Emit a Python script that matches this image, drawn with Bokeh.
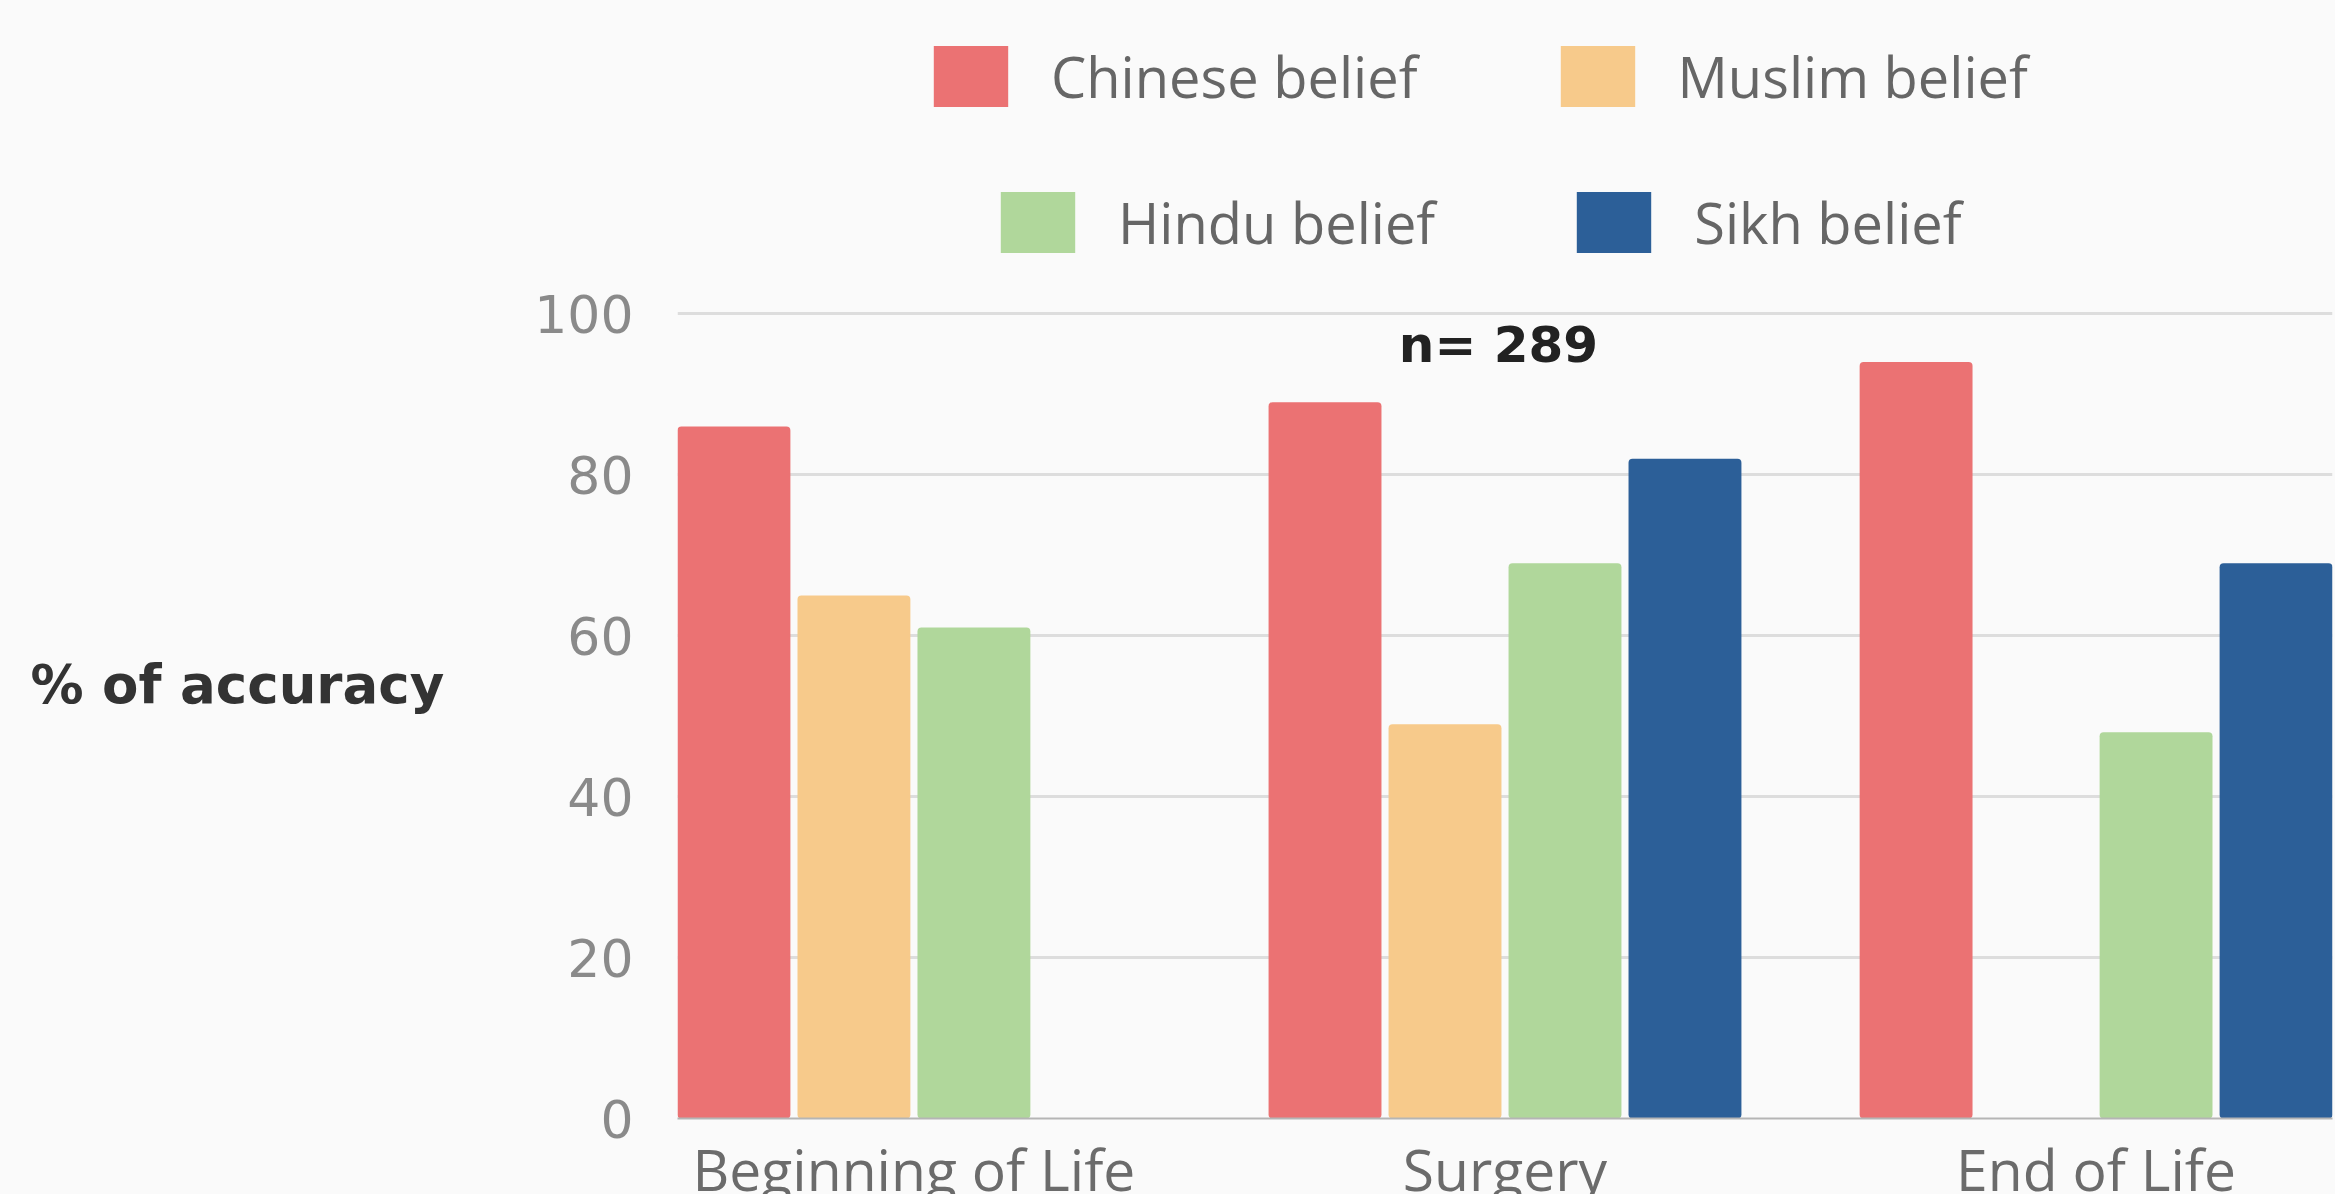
from bokeh.plotting import figure
from bokeh.models import ColumnDataSource, FactorRange, Legend, LegendItem, Label, FixedTicker
from bokeh.transform import dodge
from bokeh.embed import file_html
from bokeh.resources import INLINE

NaN = float("nan")

# ---- data ----
categories = ["Beginning of Life", "Surgery", "End of Life"]
series = ["Chinese belief", "Muslim belief", "Hindu belief", "Sikh belief"]
chinese = [86, 89, 94]
muslim = [65, 49, NaN]
hindu = [61, 69, 48]
sikh = [NaN, 82, 69]
y_ticks = [0, 20, 40, 60, 80, 100]
y_title = "% of accuracy"
sample_note = "n= 289"

# ---- style ----
colors = ["#EB7273", "#F7CA8B", "#B0D79B", "#2C5F98"]
offsets = [-0.3045, -0.1015, 0.1015, 0.3045]
bar_width = 0.191
BG = "#fafafa"

src = ColumnDataSource(dict(cat=categories, chinese=chinese, muslim=muslim,
                            hindu=hindu, sikh=sikh))

W, H = 2335, 1210
xr = FactorRange(*categories, range_padding=-0.1, range_padding_units="absolute")
# frame reaches the top of the canvas so the legend rows can sit inside it
p = figure(x_range=xr, y_range=(0, 138.93), width=W, height=H,
           output_backend="svg", toolbar_location=None,
           min_border_left=677, min_border_top=0, min_border_right=3,
           min_border_bottom=0)
p.background_fill_color = BG
p.border_fill_color = BG
p.outline_line_color = None

renderers = []
for col, off, c in zip(["chinese", "muslim", "hindu", "sikh"], offsets, colors):
    r = p.vbar(x=dodge("cat", off, range=p.x_range), top=col, width=bar_width,
               source=src, fill_color=c, line_color=None, border_radius=4)
    renderers.append(r)

# axes
p.xgrid.visible = False
p.ygrid.grid_line_color = "#dddddd"
p.ygrid.grid_line_width = 3
p.yaxis.ticker = FixedTicker(ticks=y_ticks)
p.yaxis.axis_line_color = None
p.yaxis.major_tick_line_color = None
p.yaxis.minor_tick_line_color = None
p.yaxis.major_tick_out = 0
p.yaxis.minor_tick_out = 0
p.yaxis.major_label_standoff = 44
p.yaxis.major_label_text_font = "DejaVu Sans"
p.yaxis.major_label_text_font_size = "52px"
p.yaxis.major_label_text_color = "#8a8a8a"

p.yaxis.axis_label = "\n" + y_title
p.yaxis.axis_label_orientation = "horizontal"
p.yaxis.axis_label_standoff = 87
p.yaxis.axis_label_text_font = "DejaVu Sans"
p.yaxis.axis_label_text_font_style = "bold"
p.yaxis.axis_label_text_font_size = "53px"
p.yaxis.axis_label_text_color = "#333333"
p.yaxis.axis_label_text_line_height = 4.1

p.xaxis.axis_line_color = "#b5b5b5"
p.xaxis.axis_line_width = 2
p.xaxis.major_tick_line_color = None
p.xaxis.minor_tick_line_color = None
p.xaxis.major_tick_out = 0
p.xaxis.minor_tick_out = 0
p.xaxis.major_label_standoff = 11
p.xaxis.major_label_text_font = "Open Sans"
p.xaxis.major_label_text_font_size = "57px"
p.xaxis.major_label_text_color = "#6b6b6b"

# sample size note
p.add_layout(Label(x=821, y=96.1, x_units="screen", y_units="data", text=sample_note,
                   text_font="DejaVu Sans", text_font_style="bold",
                   text_font_size="50px", text_color="#222222",
                   text_baseline="middle", text_align="center"))

def make_legend(idx, loc, spacing):
    leg = Legend(items=[LegendItem(label=series[i], renderers=[renderers[i]]) for i in idx],
                 orientation="horizontal", location=loc, spacing=spacing,
                 padding=0, margin=0, glyph_width=93, glyph_height=76,
                 label_standoff=34, border_line_color=None,
                 background_fill_alpha=0,
                 label_text_font="Open Sans", label_text_font_size="56px",
                 label_text_color="#666666")
    p.add_layout(leg)

make_legend([0, 1], (247, 1004), 133)
make_legend([2, 3], (314, 858), 132)

html = file_html(p, INLINE)
html = html.replace("<body>", '<body style="background-color:#fafafa; margin:0; overflow:hidden;">')
open("out.html", "w").write(html)
